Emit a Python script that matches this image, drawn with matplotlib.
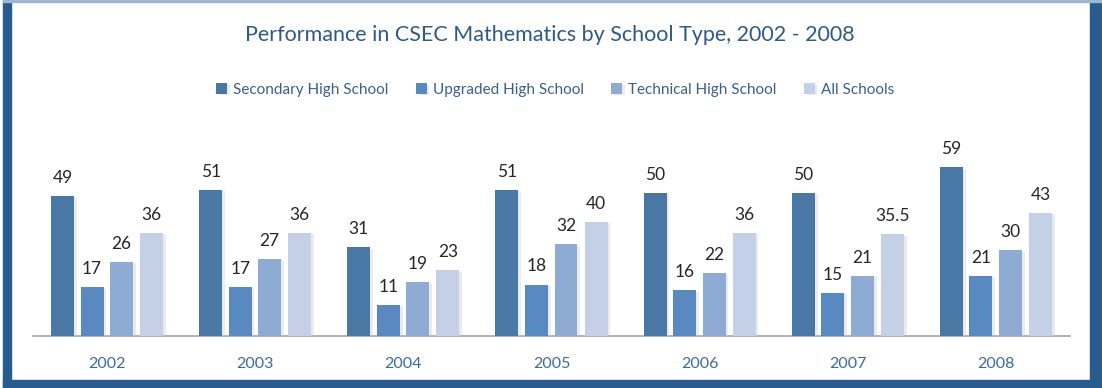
import matplotlib.pyplot as plt
import matplotlib.patheffects as pe
from matplotlib.patches import Rectangle
import numpy as np

years = ["2002", "2003", "2004", "2005", "2006", "2007", "2008"]
secondary = [49, 51, 31, 51, 50, 50, 59]
upgraded = [17, 17, 11, 18, 16, 15, 21]
technical = [26, 27, 19, 32, 22, 21, 30]
all_schools = [36, 36, 23, 40, 36, 35.5, 43]

series = [
    ("Secondary High School", secondary, "#4a78a4"),
    ("Upgraded High School", upgraded, "#5889c0"),
    ("Technical High School", technical, "#8eabd3"),
    ("All Schools", all_schools, "#c3d0e6"),
]

plt.rcParams['font.family'] = ['Lato', 'DejaVu Sans']

W, H = 1102, 388
fig = plt.figure(figsize=(W / 100, H / 100), dpi=100)

# frame around the chart
fig.patches.append(Rectangle((3 / W, 0), 8 / W, 1, transform=fig.transFigure, color="#285c8e", zorder=0))
fig.patches.append(Rectangle((1090 / W, 0), 12 / W, 1, transform=fig.transFigure, color="#285c8e", zorder=0))
fig.patches.append(Rectangle((3 / W, 0), 1099 / W, 8 / H, transform=fig.transFigure, color="#285c8e", zorder=0))
fig.patches.append(Rectangle((3 / W, 1 - 2 / H), 1099 / W, 2 / H, transform=fig.transFigure, color="#9db6d4", zorder=0))

ax = fig.add_axes([33 / W, (H - 336) / H, 1037 / W, 206 / H])
x = np.arange(len(years))
offsets = [-44.5 / 148, -15 / 148, 14.5 / 148, 44.5 / 148]
width = 0.155

handles = []
for (name, vals, col), off in zip(series, offsets):
    bars = ax.bar(x + off, vals, width, color=col, label=name, zorder=3)
    for b in bars:
        b.set_path_effects([pe.SimplePatchShadow(offset=(2, -1), shadow_rgbFace="#c8c8c8", alpha=0.35), pe.Normal()])
    for xi, v in zip(x + off, vals):
        ax.text(xi, v + 3.5, f"{v:g}", ha="center", va="bottom", fontsize=12.5, color="#262626")
    handles.append(bars)

ax.set_xlim(-0.5, 6.5)
ax.set_ylim(0, 72)
ax.set_yticks([])
ax.set_xticks(x)
ax.set_xticklabels(years, fontsize=11.5, color="#3a6a9c")
ax.tick_params(axis="x", length=0, pad=15)
for s in ["top", "right", "left"]:
    ax.spines[s].set_visible(False)
ax.spines["bottom"].set_color("#a6a6a6")
ax.spines["bottom"].set_linewidth(1.2)

fig.text(550 / W, 1 - 35 / H, "Performance in CSEC Mathematics by School Type, 2002 - 2008",
         ha="center", va="center", fontsize=15.5, color="#2e5a88")

fig.legend(handles=handles, loc="center", bbox_to_anchor=(555 / W, 1 - 90 / H), ncol=4,
           frameon=False, fontsize=11, labelcolor="#3a5f8a", handlelength=0.7, handleheight=0.7,
           handletextpad=0.4, columnspacing=1.8)

fig.savefig("out.png", dpi=100)
